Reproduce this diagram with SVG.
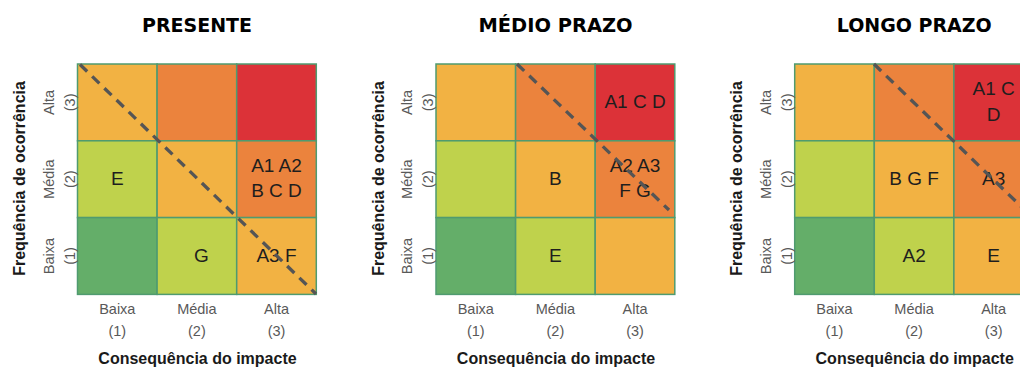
<svg xmlns="http://www.w3.org/2000/svg" width="1020" height="367" viewBox="0 0 1020 367">
<style>
.cell{stroke:#4F9B70;stroke-width:1.5}
.dg{fill:#64AE69}.lm{fill:#BFD24C}.yl{fill:#F2B243}.or{fill:#EB833D}.rd{fill:#DC3238}
.lbl{font-family:"Liberation Sans",Arial,sans-serif;font-size:19px;fill:#1e1e1e;text-anchor:middle}
.tick{font-family:"Liberation Sans",Arial,sans-serif;font-size:14.5px;fill:#595959;text-anchor:middle}
.axis{font-family:"Liberation Sans",Arial,sans-serif;font-weight:bold;font-size:16px;fill:#1a1a1a;text-anchor:middle}
.title{font-family:"DejaVu Sans",Verdana,sans-serif;font-weight:bold;font-size:19px;fill:#000;text-anchor:middle}
.diag{stroke:#555;stroke-width:3.3;stroke-dasharray:10 7;fill:none}
</style>
<defs>
<g id="grid">
<rect class="cell yl" x="0" y="64" width="79.6" height="76.8"/>
<rect class="cell or" x="79.6" y="64" width="79.6" height="76.8"/>
<rect class="cell rd" x="159.2" y="64" width="79.6" height="76.8"/>
<rect class="cell lm" x="0" y="140.8" width="79.6" height="76.8"/>
<rect class="cell yl" x="79.6" y="140.8" width="79.6" height="76.8"/>
<rect class="cell or" x="159.2" y="140.8" width="79.6" height="76.8"/>
<rect class="cell dg" x="0" y="217.6" width="79.6" height="76.8"/>
<rect class="cell lm" x="79.6" y="217.6" width="79.6" height="76.8"/>
<rect class="cell yl" x="159.2" y="217.6" width="79.6" height="76.8"/>
</g>
<g id="axes">
<text class="tick" x="39.8" y="314">Baixa</text>
<text class="tick" x="119.4" y="314">Média</text>
<text class="tick" x="199" y="314">Alta</text>
<text class="tick" x="39.8" y="336">(1)</text>
<text class="tick" x="119.4" y="336">(2)</text>
<text class="tick" x="199" y="336">(3)</text>
<text class="tick" transform="translate(-24,102.4) rotate(-90)">Alta</text>
<text class="tick" transform="translate(-3,102.4) rotate(-90)">(3)</text>
<text class="tick" transform="translate(-24,179.2) rotate(-90)">Média</text>
<text class="tick" transform="translate(-3,179.2) rotate(-90)">(2)</text>
<text class="tick" transform="translate(-24,256) rotate(-90)">Baixa</text>
<text class="tick" transform="translate(-3,256) rotate(-90)">(1)</text>
<text class="axis" x="120" y="364">Consequência do impacte</text>
<text class="axis" transform="translate(-52.5,178.5) rotate(-90)">Frequência de ocorrência</text>
</g>
</defs>

<g id="presente" transform="translate(77.5,0)">
<text class="title" x="119.5" y="32" textLength="110" lengthAdjust="spacingAndGlyphs">PRESENTE</text>
<use href="#grid"/>
<use href="#axes"/>
<text class="lbl" x="39.8" y="184.7">E</text>
<text class="lbl" x="199" y="172">A1 A2</text>
<text class="lbl" x="199" y="197">B C D</text>
<text class="lbl" x="124" y="261.5">G</text>
<text class="lbl" x="199" y="261.5">A3 F</text>
</g>

<g id="medio-prazo" transform="translate(436,0)">
<text class="title" x="119.5" y="32" textLength="154" lengthAdjust="spacingAndGlyphs">MÉDIO PRAZO</text>
<use href="#grid"/>
<use href="#axes"/>
<text class="lbl" x="199" y="108">A1 C D</text>
<text class="lbl" x="119.4" y="184.7">B</text>
<text class="lbl" x="199" y="172">A2 A3</text>
<text class="lbl" x="199" y="197">F G</text>
<text class="lbl" x="119.4" y="261.5">E</text>
</g>

<g id="longo-prazo" transform="translate(794.7,0)">
<text class="title" x="119.5" y="32" textLength="155" lengthAdjust="spacingAndGlyphs">LONGO PRAZO</text>
<use href="#grid"/>
<use href="#axes"/>
<text class="lbl" x="199" y="95">A1 C</text>
<text class="lbl" x="199" y="120.5">D</text>
<text class="lbl" x="119.4" y="184.7">B G F</text>
<text class="lbl" x="199" y="184.7">A3</text>
<text class="lbl" x="119.4" y="261.5">A2</text>
<text class="lbl" x="199" y="261.5">E</text>
</g>

<g id="connectors">
<line class="diag" x1="80" y1="64.5" x2="316" y2="294"/>
<line class="diag" x1="517" y1="64" x2="669" y2="210"/>
<line class="diag" x1="874" y1="64" x2="1033" y2="218"/>
</g>
</svg>
